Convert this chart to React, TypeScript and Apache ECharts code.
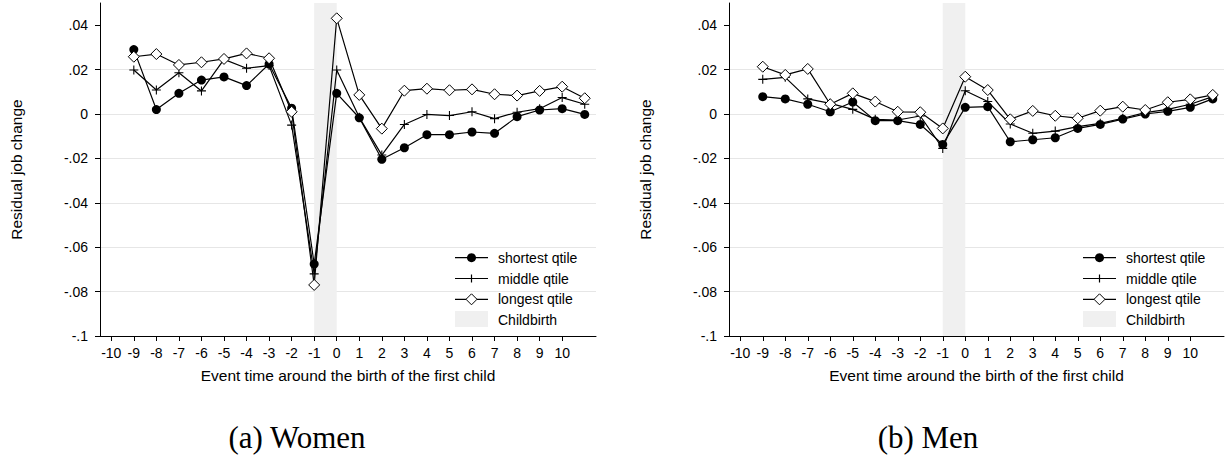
import React, { useEffect, useRef } from "react";
import * as echarts from "echarts";

// ---------- data ----------
const axisCategories = [-10, -9, -8, -7, -6, -5, -4, -3, -2, -1, 0, 1, 2, 3, 4, 5, 6, 7, 8, 9, 10, 11];
const eventTime = [-9, -8, -7, -6, -5, -4, -3, -2, -1, 0, 1, 2, 3, 4, 5, 6, 7, 8, 9, 10, 11];
const yTicks = [-0.1, -0.08, -0.06, -0.04, -0.02, 0, 0.02, 0.04];
const childbirthSpan = [-1, 0];

const womenShortest = [0.029, 0.002, 0.0093, 0.0153, 0.0167, 0.0128, 0.0225, 0.0026, -0.0676, 0.0093, -0.0017, -0.0204, -0.0152, -0.0093, -0.0093, -0.0081, -0.0087, -0.0012, 0.0018, 0.0024, -0.0002];
const womenMiddle = [0.0198, 0.0108, 0.0186, 0.0104, 0.0246, 0.0206, 0.0218, -0.005, -0.072, 0.0198, -0.0015, -0.0185, -0.0047, -0.0002, -0.0007, 0.001, -0.0021, 0.0008, 0.0024, 0.0074, 0.0044];
const womenLongest = [0.0258, 0.027, 0.0221, 0.0233, 0.0248, 0.0273, 0.0251, 0.001, -0.077, 0.0431, 0.0086, -0.0066, 0.0105, 0.0114, 0.0107, 0.0111, 0.0089, 0.0083, 0.0104, 0.0123, 0.0071];

const menShortest = [0.0078, 0.0068, 0.0044, 0.001, 0.0054, -0.003, -0.003, -0.0047, -0.0137, 0.003, 0.0033, -0.0125, -0.0116, -0.0107, -0.0065, -0.0047, -0.0023, 0.0, 0.0012, 0.003, 0.0068];
const menMiddle = [0.0156, 0.0165, 0.0068, 0.0048, 0.0021, -0.0024, -0.0027, -0.0009, -0.0155, 0.0105, 0.0056, -0.0045, -0.0087, -0.0077, -0.0057, -0.0042, -0.0019, 0.0006, 0.0021, 0.0044, 0.0078];
const menLongest = [0.0213, 0.0176, 0.0203, 0.0044, 0.0093, 0.0056, 0.001, 0.0008, -0.0065, 0.0168, 0.0108, -0.0024, 0.0014, -0.0008, -0.0019, 0.0015, 0.0033, 0.0018, 0.0053, 0.0066, 0.0086];

const seriesNames = ["shortest qtile", "middle qtile", "longest qtile"];
const bandName = "Childbirth";
const panelCaptions = ["(a) Women", "(b) Men"];
const xTitle = "Event time around the birth of the first child";
const yTitle = "Residual job change";

// ---------- styling ----------
const SANS = "Liberation Sans, Arial, sans-serif";
const SERIF = "Liberation Serif, Times New Roman, serif";
const panels = [
  { left: 100, width: 496, data: [womenShortest, womenMiddle, womenLongest], caption: panelCaptions[0], capX: 297 },
  { left: 729, width: 495, data: [menShortest, menMiddle, menLongest], caption: panelCaptions[1], capX: 928 },
];
const GRID_TOP = 3;
const GRID_H = 333;

const PLUS = "path://M4.4,0h1.2v4.4h4.4v1.2h-4.4v4.4h-1.2v-4.4h-4.4v-1.2h4.4z";
const symbols = [
  { symbol: "circle", size: 9, fill: "#000" },
  { symbol: PLUS, size: 9, fill: "#000" },
  { symbol: "diamond", size: 11, fill: "#fff" },
];

const fmtY = (v: number) => {
  if (Math.abs(v) < 1e-9) return "0";
  const s = String(Math.round(v * 100) / 100);
  return s.replace("0.", ".");
};

function legendGraphic(gridRight: number) {
  const children: any[] = [];
  children.push({
    type: "rect",
    shape: { x: gridRight - 149, y: 245, width: 146, height: 86 },
    style: { fill: "#fff" },
  });
  const x0 = gridRight - 141;
  const x1 = x0 + 33;
  const cx = (x0 + x1) / 2;
  const tx = gridRight - 98;
  const rows = [257.7, 278.5, 299.3, 320];
  seriesNames.forEach((name, i) => {
    const y = rows[i];
    children.push({ type: "line", shape: { x1: x0, y1: y, x2: x1, y2: y }, style: { stroke: "#000", lineWidth: 1.2 } });
    if (i === 0) children.push({ type: "circle", shape: { cx, cy: y, r: 4.5 }, style: { fill: "#000" } });
    if (i === 1) {
      children.push({ type: "line", shape: { x1: cx, y1: y - 4, x2: cx, y2: y + 4 }, style: { stroke: "#000", lineWidth: 1.2 } });
    }
    if (i === 2)
      children.push({
        type: "polygon",
        shape: { points: [[cx, y - 5.5], [cx + 5.5, y], [cx, y + 5.5], [cx - 5.5, y]] },
        style: { fill: "#fff", stroke: "#000", lineWidth: 1 },
      });
    children.push({
      type: "text",
      x: tx,
      y,
      style: { text: name, font: `14px ${SANS}`, fill: "#000", verticalAlign: "middle", align: "left" },
    });
  });
  children.push({
    type: "rect",
    shape: { x: x0, y: rows[3] - 9, width: 33, height: 16 },
    style: { fill: "#f0f0f0" },
  });
  children.push({
    type: "text",
    x: tx,
    y: rows[3],
    style: { text: bandName, font: `14px ${SANS}`, fill: "#000", verticalAlign: "middle", align: "left" },
  });
  return { type: "group", z: 100, children };
}

export default function App() {
  const ref = useRef<HTMLDivElement>(null);
  useEffect(() => {
    document.body.style.margin = "0";
    if (!ref.current) return;
    const chart = echarts.init(ref.current, undefined, { renderer: "svg" });
    const cats = axisCategories.map(String);

    const grid = panels.map((p) => ({ left: p.left, top: GRID_TOP, width: p.width, height: GRID_H }));
    const xAxis = panels.map((p, gi) => ({
      type: "category",
      gridIndex: gi,
      data: cats,
      boundaryGap: true,
      axisLine: { show: true, onZero: false, lineStyle: { color: "#000", width: 1 } },
      axisTick: { show: true, alignWithLabel: true, length: 5, interval: (i: number) => i <= 20, lineStyle: { color: "#000" } },
      axisLabel: { interval: (i: number) => i <= 20, color: "#000", fontFamily: SANS, fontSize: 14, margin: 10 },
      splitLine: { show: false },
      name: xTitle,
      nameLocation: "middle",
      nameGap: 31,
      nameTextStyle: { color: "#000", fontFamily: SANS, fontSize: 15.5 },
    }));
    const yAxis = panels.map((p, gi) => ({
      type: "value",
      gridIndex: gi,
      min: -0.1,
      max: 0.05,
      interval: 0.02,
      axisLine: { show: true, onZero: false, lineStyle: { color: "#000", width: 1 } },
      axisTick: { show: true, length: 5, customValues: yTicks, lineStyle: { color: "#000" } },
      axisLabel: { customValues: yTicks, formatter: (v: number) => fmtY(v), color: "#000", fontFamily: SANS, fontSize: 14, margin: 12 },
      splitLine: { show: true, showMinLine: false, showMaxLine: false, lineStyle: { color: "#e6e6e6", width: 1 } },
      name: yTitle,
      nameLocation: "middle",
      nameGap: 76,
      nameTextStyle: { color: "#000", fontFamily: SANS, fontSize: 15.5 },
    }));

    const series: any[] = [];
    panels.forEach((p, gi) => {
      p.data.forEach((vals, si) => {
        const s: any = {
          type: "line",
          name: seriesNames[si],
          xAxisIndex: gi,
          yAxisIndex: gi,
          data: eventTime.map((t, i) => [String(t), vals[i]]),
          symbol: symbols[si].symbol,
          symbolSize: symbols[si].size,
          showAllSymbol: true,
          lineStyle: { color: "#000", width: 1.2 },
          itemStyle: { color: symbols[si].fill, borderColor: "#000", borderWidth: si === 2 ? 1 : 0 },
          z: 3 + si,
        };
        if (si === 0) {
          s.markArea = {
            silent: true,
            itemStyle: { color: "#f0f0f0" },
            data: [[{ xAxis: String(childbirthSpan[0]) }, { xAxis: String(childbirthSpan[1]) }]],
          };
        }
        series.push(s);
      });
    });

    const graphic: any[] = [];
    panels.forEach((p) => {
      graphic.push(legendGraphic(p.left + p.width));
      graphic.push({
        type: "text",
        x: p.capX,
        y: 437,
        style: { text: p.caption, font: `31px ${SERIF}`, fill: "#000", align: "center", verticalAlign: "middle" },
      });
    });

    chart.setOption({
      animation: false,
      backgroundColor: "#fff",
      grid,
      xAxis,
      yAxis,
      series,
      graphic,
    });
    return () => chart.dispose();
  }, []);
  return <div ref={ref} style={{ width: 1230, height: 458 }} />;
}
